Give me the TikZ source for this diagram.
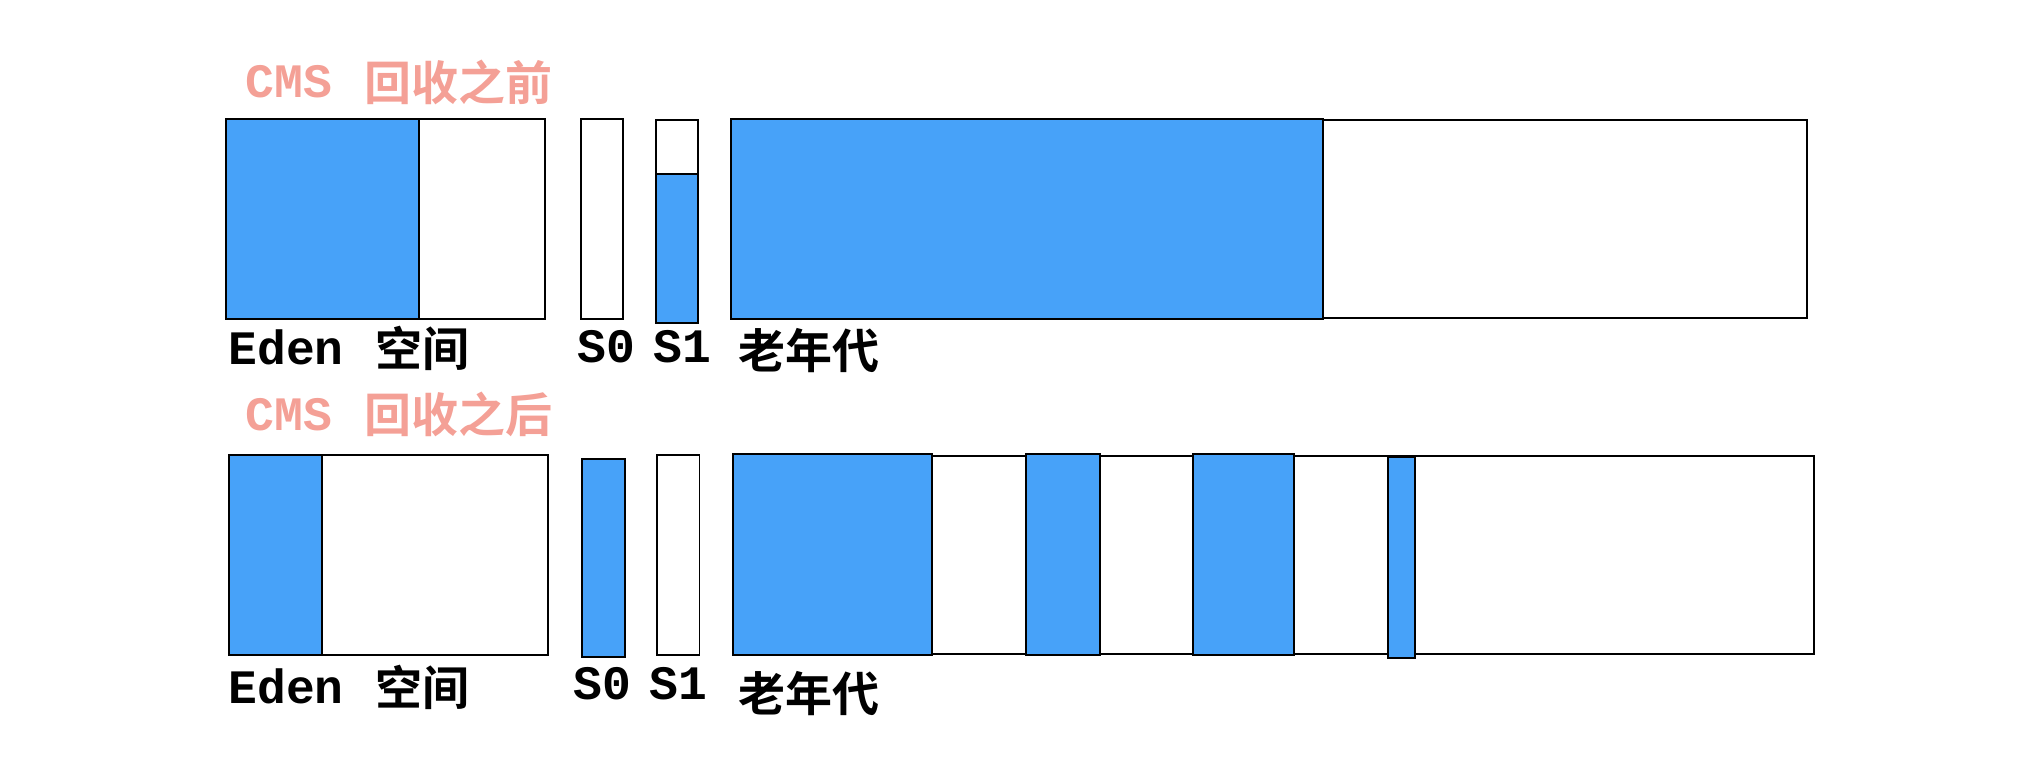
\documentclass[tikz,border=0pt]{standalone}
\usepackage{fontspec}
\setmonofont{Liberation Mono}
\newfontfamily\cjk{Noto Sans CJK SC}[BoldFont={Noto Sans CJK SC Bold}]
\definecolor{memblue}{HTML}{47A2F9}
\definecolor{cmspink}{HTML}{F4A096}
\tikzset{
  freebox/.style={draw=black,line width=0.9pt,fill=white},
  usedbox/.style={draw=black,line width=0.9pt,fill=memblue},
  monolbl/.style={anchor=base west,inner sep=0pt,font=\ttfamily\bfseries\fontsize{24}{28}\selectfont},
  cjklbl/.style={anchor=base west,inner sep=0pt,font=\cjk\bfseries\fontsize{23.5}{28}\selectfont},
  titlemono/.style={monolbl,text=cmspink},
  titlecjk/.style={cjklbl,text=cmspink}
}
\begin{document}
\begin{tikzpicture}[x=0.5pt,y=-0.5pt]
\useasboundingbox (0,0) rectangle (2036,776);
% ---------- top row ----------
\node[titlemono] (t1) at (245,97) {CMS};
\node[titlecjk] (t1c) at (364,100) {回收之前};
\draw[freebox] (225.6,119) rectangle (545.2,318.7);
\draw[usedbox] (225.6,119) rectangle (418.9,318.7);
\draw[freebox] (580.8,119) rectangle (623.2,318.7);
\draw[freebox] (655.8,120) rectangle (698.2,322.7);
\draw[usedbox] (655.8,174) rectangle (698.2,322.7);
\draw[freebox] (1323,120) rectangle (1807,318);
\draw[usedbox] (731.3,119) rectangle (1323.2,318.7);
\node[monolbl] (e1) at (228,364) {Eden};
\node[cjklbl] (e1c) at (375,366) {空间};
\node[monolbl] (s01) at (577,362) {S0};
\node[monolbl] (s11) at (653,362) {S1};
\node[cjklbl] (o1) at (738,368) {老年代};
% ---------- bottom row ----------
\node[titlemono] (t2) at (245,430) {CMS};
\node[titlecjk] (t2c) at (364,432) {回收之后};
\draw[freebox] (228.7,455) rectangle (548.2,655);
\draw[usedbox] (228.7,455) rectangle (321.7,655);
\draw[usedbox] (582,459) rectangle (624.8,656.7);
\draw[freebox] (657,455) rectangle (699.4,655);
\draw[freebox] (732.6,455.7) rectangle (1814,654);
\draw[usedbox] (732.6,454.3) rectangle (931.7,655);
\draw[usedbox] (1025.9,454.3) rectangle (1099.6,655);
\draw[usedbox] (1192.9,454.3) rectangle (1294.2,655);
\draw[usedbox] (1388,456.7) rectangle (1414.8,658.3);
\node[monolbl] (e2) at (228,703) {Eden};
\node[cjklbl] (e2c) at (375,705) {空间};
\node[monolbl] (s02) at (573,699) {S0};
\node[monolbl] (s12) at (649,699) {S1};
\node[cjklbl] (o2) at (738,711) {老年代};
\end{tikzpicture}
\end{document}
